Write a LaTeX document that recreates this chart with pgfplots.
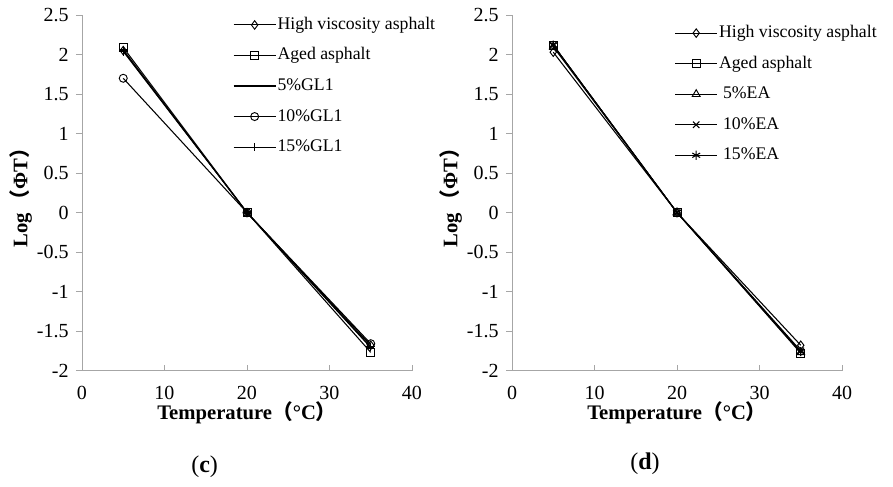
\documentclass[border=0pt]{standalone}
\usepackage{fontspec}
\setmainfont{Liberation Serif}
\newfontfamily\cjk{Noto Sans CJK SC}
\usepackage{pgfplots}
\pgfplotsset{compat=1.18}

\definecolor{axisgray}{RGB}{166,166,166}

\pgfplotsset{
  panel/.style={
    scale only axis,
    width=247.5pt, height=266.6pt,
    xmin=0, xmax=40, ymin=-2, ymax=2.5,
    xtick={0,10,20,30,40},
    ytick={-2,-1.5,...,2.5},
    axis x line*=bottom, axis y line*=left,
    axis line style={draw=axisgray, line width=0.6pt},
    tick style={draw=axisgray, line width=0.6pt},
    major tick length=4.5pt,
    xtick align=inside, ytick align=outside,
    /pgf/number format/assume math mode=true,
    /pgf/number format/fixed,
    tick label style={font=\fontsize{15}{17}\selectfont, text=black},
    xticklabel style={yshift=-8pt},
    yticklabel style={xshift=-2pt},
    clip=false,
    every axis plot/.append style={black, line width=0.8pt},
    legend cell align=left,
    legend style={draw=none, fill=none, anchor=north west,
      font=\fontsize{13.3}{15}\selectfont, row sep=8.2pt,
      nodes={inner sep=1pt, text height=9.7pt, text depth=3pt}},
    legend image code/.code={%
      \draw[mark repeat=2, mark phase=2] plot coordinates {(0pt,0pt) (15.75pt,0pt) (31.5pt,0pt)};},
  },
  mdiamond/.style={mark=diamond, mark size=3.2pt, mark options={solid, fill=white, line width=0.7pt}},
  msquare/.style={mark=square, mark size=3pt, mark options={solid, fill=white, line width=0.7pt}},
  mcircle/.style={mark=o, mark size=3pt, mark options={solid, fill=white, line width=0.7pt}},
  mtri/.style={mark=triangle, mark size=3.4pt, mark options={solid, fill=white, line width=0.7pt}},
}

\newcommand{\ylab}{\bfseries\fontsize{15.5}{17}\selectfont Log\hspace{2pt}{\cjk（}ΦT{\cjk）}}
\newcommand{\xlab}{\bfseries\fontsize{15.5}{17}\selectfont Temperature{\cjk（}°C{\cjk）}}

\begin{document}
\begin{tikzpicture}
\useasboundingbox (-61.5pt,-86.6pt) rectangle (608.25pt,277.9pt);

% (c) asphalt with GL1
\begin{axis}[panel, at={(0pt,0pt)}, anchor=south west,
  legend style={at={(rel axis cs:0.445,1.008)}}]
\addplot[mdiamond] coordinates {(5,2.05) (20,0) (35,-1.68)};
\addlegendentry{High viscosity asphalt}
\addplot[msquare] coordinates {(5,2.09) (20,0) (35,-1.77)};
\addlegendentry{Aged asphalt}
\addplot[mark=-, mark size=2.6pt, mark options={solid, line width=1.8pt}] coordinates {(5,2.06) (20,0) (35,-1.71)};
\addlegendentry{5\%GL1}
\addplot[mcircle] coordinates {(5,1.70) (20,0) (35,-1.66)};
\addlegendentry{10\%GL1}
\addplot[mark=+, mark size=3.2pt, mark options={solid, line width=0.8pt}] coordinates {(5,2.04) (20,0) (35,-1.70)};
\addlegendentry{15\%GL1}
\node at ([yshift=-32pt]rel axis cs:0.5,0) {\xlab};
\node[rotate=90] at ([xshift=-46pt]rel axis cs:0,0.5) {\ylab};
\node at ([xshift=92pt,yshift=-72pt]rel axis cs:0,0) {\fontsize{18}{20}\selectfont(\textbf{c})};
\end{axis}

% (d) asphalt with EA
\begin{axis}[panel, at={(322.5pt,0pt)}, anchor=south west,
  legend style={at={(rel axis cs:0.480,0.985)}}]
\addplot[mdiamond] coordinates {(5,2.03) (20,0) (35,-1.68)};
\addlegendentry{High viscosity asphalt}
\addplot[msquare] coordinates {(5,2.12) (20,0) (35,-1.78)};
\addlegendentry{Aged asphalt}
\addplot[mtri] coordinates {(5,2.10) (20,0) (35,-1.77)};
\addlegendentry{\hspace{3pt}5\%EA}
\addplot[mark=x, mark size=3.4pt, mark options={solid, line width=0.8pt}] coordinates {(5,2.12) (20,0) (35,-1.75)};
\addlegendentry{\hspace{3pt}10\%EA}
\addplot[mark=asterisk, mark size=3.4pt, mark options={solid, line width=0.8pt}] coordinates {(5,2.12) (20,0) (35,-1.76)};
\addlegendentry{\hspace{3pt}15\%EA}
\node at ([yshift=-32pt]rel axis cs:0.5,0) {\xlab};
\node[rotate=90] at ([xshift=-46pt]rel axis cs:0,0.5) {\ylab};
\node at ([xshift=99.75pt,yshift=-70pt]rel axis cs:0,0) {\fontsize{18}{20}\selectfont(\textbf{d})};
\end{axis}
\end{tikzpicture}
\end{document}
